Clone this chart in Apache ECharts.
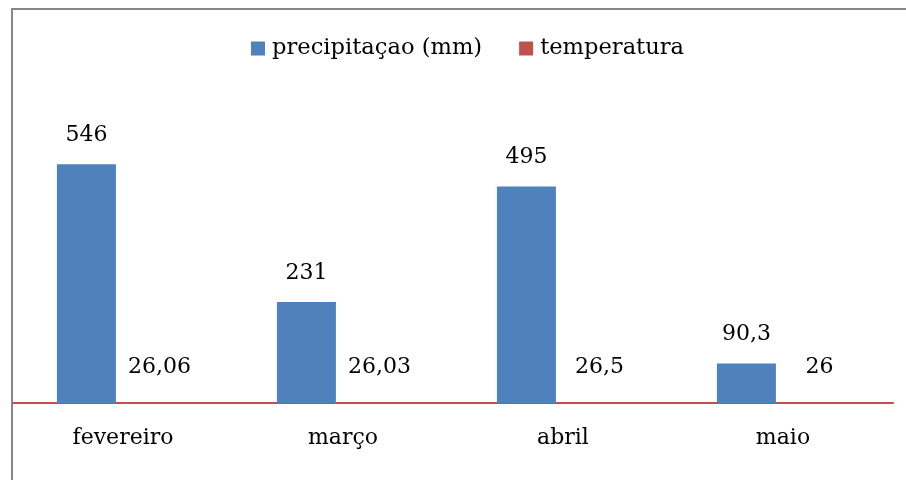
<!DOCTYPE html>
<html>
<head>
<meta charset="utf-8">
<script src="https://cdn.jsdelivr.net/npm/echarts@6/dist/echarts.min.js"></script>
<style>
html,body{margin:0;padding:0;background:#fff;}
#chart{width:906px;height:480px;}
</style>
</head>
<body>
<div id="chart"></div>
<script>
var categories = ['fevereiro', 'março', 'abril', 'maio'];
var precipitacao = [546, 231, 495, 90.3];
var temperatura = [26.06, 26.03, 26.5, 26];
var seriesNames = ['precipitaçao (mm)', 'temperatura'];

var FONT = 'DejaVu Serif';
function fmt(v) { return String(v).replace('.', ','); }

var chart = echarts.init(document.getElementById('chart'), null, {renderer: 'canvas'});
chart.setOption({
  animation: false,
  backgroundColor: '#fff',
  graphic: [{
    type: 'polyline',
    shape: {points: [[12, 490], [12, 9], [920, 9]]},
    style: {stroke: '#878787', lineWidth: 2, fill: null},
    silent: true
  }],
  legend: {
    top: 37,
    left: 251,
    padding: 0,
    itemWidth: 14,
    itemHeight: 14,
    itemGap: 37,
    icon: 'rect',
    textStyle: {fontFamily: FONT, fontSize: 22.6, color: '#000', padding: [0, 0, 0, 2]},
    data: seriesNames
  },
  grid: {left: 13, right: 13, top: 97, bottom: 77, containLabel: false},
  xAxis: {
    type: 'category',
    data: categories,
    axisLine: {show: true, lineStyle: {color: '#C0504D', width: 2}},
    axisTick: {show: false},
    axisLabel: {fontFamily: FONT, fontSize: 22, color: '#000', margin: 24}
  },
  yAxis: [
    {type: 'value', min: 0, max: 700, show: false, splitLine: {show: false}},
    {type: 'value', min: 0, max: 100000000, show: false, splitLine: {show: false}}
  ],
  series: [
    {
      name: seriesNames[0],
      type: 'bar',
      data: precipitacao,
      yAxisIndex: 0,
      barWidth: 59,
      barGap: '24%',
      itemStyle: {color: '#4F81BD'},
      label: {
        show: true, position: 'top', distance: 18,
        fontFamily: FONT, fontSize: 22, color: '#000',
        formatter: function (p) { return fmt(p.value); }
      }
    },
    {
      name: seriesNames[1],
      type: 'bar',
      data: temperatura,
      yAxisIndex: 1,
      barWidth: 59,
      itemStyle: {color: '#C0504D'},
      label: {
        show: true, position: 'top', distance: 25,
        fontFamily: FONT, fontSize: 22, color: '#000',
        formatter: function (p) { return fmt(p.value); }
      }
    }
  ]
});
</script>
</body>
</html>
